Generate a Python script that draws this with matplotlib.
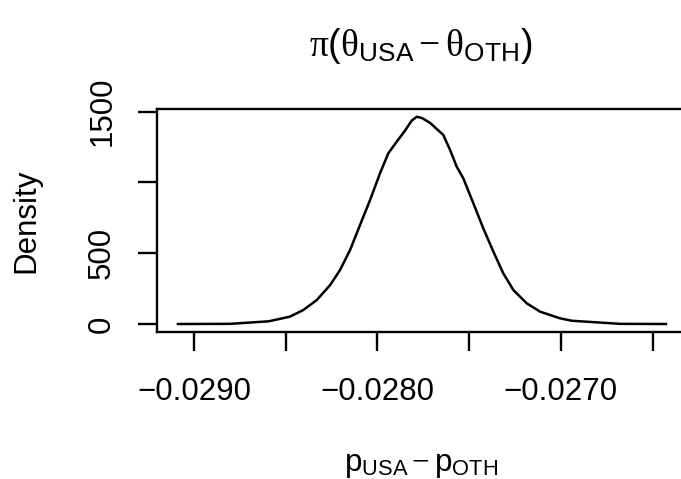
import matplotlib

matplotlib.use("Agg")
import matplotlib.pyplot as plt

# density of p_USA - p_OTH
diff_x = [
    -0.029088, -0.028804, -0.028593, -0.028477, -0.028404, -0.028331,
    -0.028258, -0.028204, -0.028149, -0.028095, -0.028040, -0.027986,
    -0.027941, -0.027895, -0.027850, -0.027813, -0.027786, -0.027758,
    -0.027713, -0.027641, -0.027604, -0.027568, -0.027532, -0.027477,
    -0.027423, -0.027368, -0.027314, -0.027259, -0.027186, -0.027113,
    -0.027004, -0.026941, -0.026677, -0.026427,
]
density_y = [
    0, 1, 19, 52, 99, 169,
    275, 381, 523, 699, 876, 1064,
    1205, 1287, 1365, 1436, 1463, 1455,
    1420, 1335, 1229, 1111, 1029, 852,
    676, 511, 358, 240, 146, 87,
    40, 23, 1, 0,
]

x_ticks = [-0.0290, -0.0285, -0.0280, -0.0275, -0.0270, -0.0265]
x_tick_labels = ["\u22120.0290", "", "\u22120.0280", "", "\u22120.0270", ""]
y_ticks = [0, 500, 1000, 1500]
y_tick_labels = ["0", "500", "", "1500"]

plt.rcParams.update(
    {
        "font.family": ["Liberation Sans", "DejaVu Sans"],
        "mathtext.fontset": "custom",
        "mathtext.rm": "Liberation Serif",
        "mathtext.sf": "Liberation Sans",
        "mathtext.it": "Liberation Serif:italic",
    }
)

W, H = 681, 479
fig = plt.figure(figsize=(W / 100, H / 100), dpi=100)
left, right, top, bottom = 157, 685, 109, 332
ax = fig.add_axes([left / W, 1 - bottom / H, (right - left) / W, (bottom - top) / H])

ax.plot(diff_x, density_y, color="black", linewidth=1.8, solid_joinstyle="round")
ax.set_xlim(-0.029202, -0.026323)
ax.set_ylim(-56.5, 1518)

ax.set_xticks(x_ticks)
ax.set_xticklabels(x_tick_labels)
ax.set_yticks(y_ticks)
ax.set_yticklabels(y_tick_labels, rotation=90, va="center")
ax.tick_params(axis="both", direction="out", length=13.7, width=1.7, labelsize=22.5, color="black")
ax.tick_params(axis="x", pad=19)
ax.tick_params(axis="y", pad=15)

for side in ["left", "top", "bottom", "right"]:
    ax.spines[side].set_linewidth(1.7)

ax.set_xlabel(r"$\mathsf{p}_{\mathsf{USA}} - \mathsf{p}_{\mathsf{OTH}}$", fontsize=22.5, labelpad=31)
ax.set_ylabel("Density", fontsize=22.5, labelpad=33)
ax.set_title(
    r"$\mathrm{\pi}\mathsf{(}\mathrm{\theta}_{\mathsf{USA}} - \mathrm{\theta}_{\mathsf{OTH}}\mathsf{)}$",
    fontsize=27, pad=38,
)

fig.savefig("out.png", dpi=100)
